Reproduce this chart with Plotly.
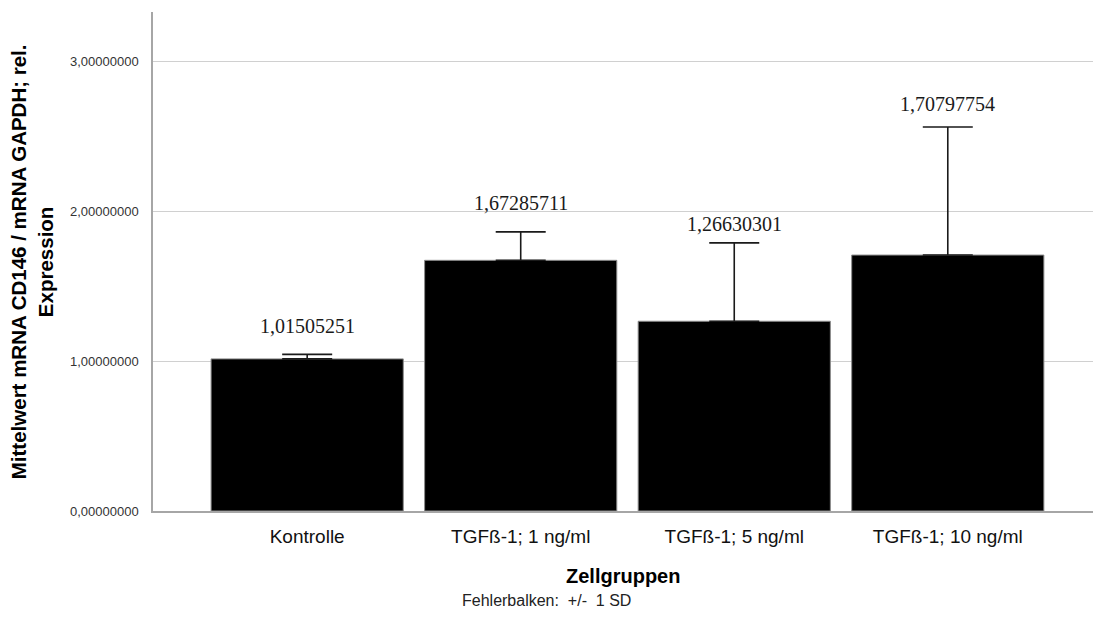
import plotly.graph_objects as go

# Mean relative CD146 expression per cell group with standard deviation
groups = ["Kontrolle", "TGFß-1; 1 ng/ml", "TGFß-1; 5 ng/ml", "TGFß-1; 10 ng/ml"]
means = [1.01505251, 1.67285711, 1.26630301, 1.70797754]
sd = [0.030, 0.190, 0.523, 0.855]
y_ticks = [0, 1, 2, 3]

# vertical pixel offsets of the value labels above the error-bar caps
label_shift = [28, 29, 19, 23]

SANS = "Liberation Sans, Arial, sans-serif"
SERIF = "Liberation Serif, Times New Roman, serif"

fig = go.Figure()
fig.add_trace(go.Bar(
    x=list(range(len(groups))),
    y=means,
    width=0.9,
    marker=dict(color="#000000", line=dict(color="#8c8c8c", width=1)),
    error_y=dict(type="data", symmetric=False, array=sd,
                 arrayminus=[0] * len(sd),
                 color="#1a1a1a", thickness=1.6, width=25),
    hoverinfo="skip",
))

for i, (m, s) in enumerate(zip(means, sd)):
    fig.add_annotation(
        x=i, y=m + s, xref="x", yref="y",
        text=f"{m:.8f}".replace(".", ","),
        showarrow=False, yanchor="middle", yshift=label_shift[i],
        font=dict(family=SERIF, size=20, color="#1a1a1a"),
    )

# axis titles and footnote
fig.add_annotation(
    x=-0.129, y=0.5, xref="paper", yref="paper",
    text="<b>Mittelwert mRNA CD146 / mRNA GAPDH; rel.<br>Expression</b>",
    textangle=-90, showarrow=False, xanchor="center", yanchor="middle",
    font=dict(family=SANS, size=20.5, color="#000000"),
)
fig.add_annotation(
    x=0.5, y=-0.131, xref="paper", yref="paper",
    text="<b>Zellgruppen</b>", showarrow=False,
    xanchor="center", yanchor="middle",
    font=dict(family=SANS, size=20, color="#000000"),
)
fig.add_annotation(
    x=0.419, y=-0.179, xref="paper", yref="paper",
    text="Fehlerbalken:  +/-  1 SD", showarrow=False,
    xanchor="center", yanchor="middle",
    font=dict(family=SANS, size=16, color="#222222"),
)

fig.update_layout(
    width=1094, height=626,
    margin=dict(l=153, r=1, t=12, b=114.5),
    paper_bgcolor="white", plot_bgcolor="white",
    separators=",.",
    showlegend=False,
    bargap=0.1,
    xaxis=dict(
        range=[-0.722, 3.68],
        tickvals=list(range(len(groups))), ticktext=groups,
        showline=True, linecolor="#a6a6a6", linewidth=1.5,
        showgrid=False, zeroline=False, ticks="",
        ticklabelstandoff=7,
        tickfont=dict(family=SANS, size=19, color="#111111"),
    ),
    yaxis=dict(
        range=[0, 3.33],
        tickvals=y_ticks, tickformat=".8f",
        showline=True, linecolor="#a6a6a6", linewidth=1.5,
        showgrid=True, gridcolor="#d0d0d0", gridwidth=1.2,
        zeroline=False, ticks="",
        ticklabelstandoff=10,
        tickfont=dict(family=SANS, size=13, color="#333333"),
    ),
)

fig.write_html("out.html")
